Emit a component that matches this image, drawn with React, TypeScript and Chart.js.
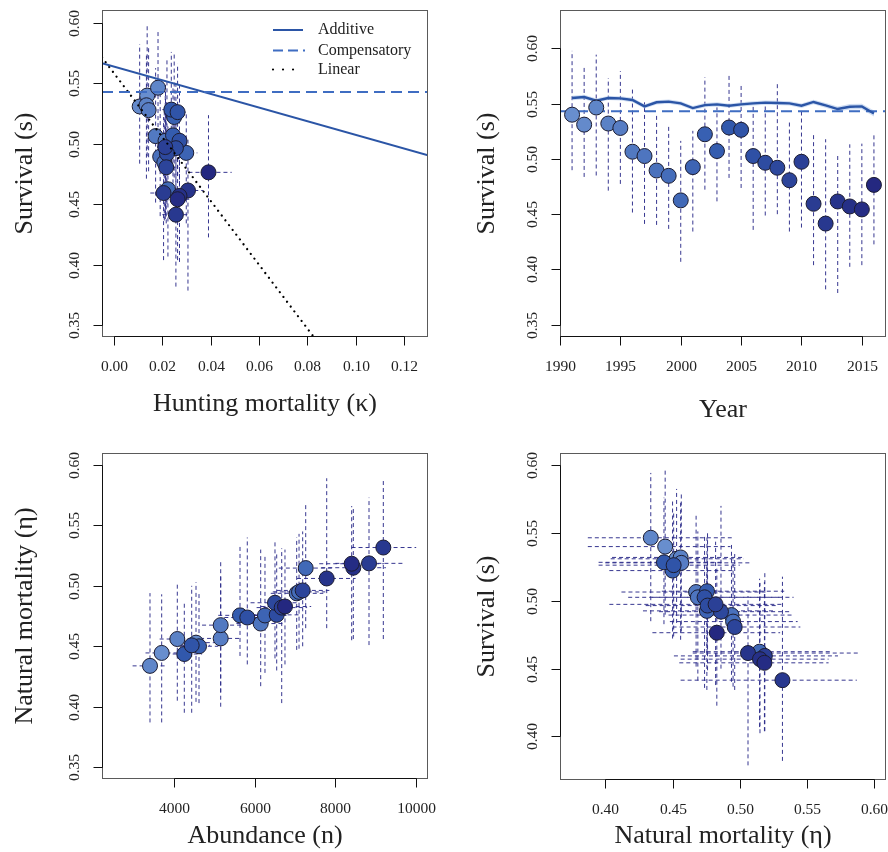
import React, { useEffect, useRef } from 'react';
import { Chart, registerables } from 'chart.js';

Chart.register(...registerables);

// ---------------- data ----------------
const years = [1991, 1992, 1993, 1994, 1995, 1996, 1997, 1998, 1999, 2000, 2001, 2002, 2003, 2004, 2005, 2006, 2007, 2008, 2009, 2010, 2011, 2012, 2013, 2014, 2015, 2016];

const survival = [0.540, 0.531, 0.5465, 0.532, 0.528, 0.5065, 0.5026, 0.4895, 0.4847, 0.4625, 0.4926, 0.5223, 0.5071, 0.5284, 0.5263, 0.5026, 0.4965, 0.4920, 0.4807, 0.4974, 0.4594, 0.4415, 0.4615, 0.4570, 0.4543, 0.4765];
const survivalLo = [0.4898, 0.4837, 0.4850, 0.4713, 0.4774, 0.4515, 0.4412, 0.4403, 0.4367, 0.4069, 0.4343, 0.4722, 0.4616, 0.4828, 0.4737, 0.4358, 0.4488, 0.4500, 0.4343, 0.4379, 0.4039, 0.3820, 0.3787, 0.4024, 0.4039, 0.4227];
const survivalHi = [0.5977, 0.5825, 0.5943, 0.5731, 0.5794, 0.5627, 0.5512, 0.5412, 0.5299, 0.5163, 0.5254, 0.5740, 0.5466, 0.5761, 0.5664, 0.5480, 0.5512, 0.5700, 0.5345, 0.5436, 0.5223, 0.5178, 0.5035, 0.5132, 0.5138, 0.5238];

const hunting = [0.0137, 0.0106, 0.0182, 0.0134, 0.0143, 0.0172, 0.0213, 0.0191, 0.0208, 0.0223, 0.0299, 0.0249, 0.0244, 0.0237, 0.0263, 0.0271, 0.0256, 0.0219, 0.0216, 0.0212, 0.0205, 0.0256, 0.0306, 0.0271, 0.0263, 0.0391];
const huntingLo = [0.0115, 0.0088, 0.0155, 0.0112, 0.0120, 0.0145, 0.0180, 0.0160, 0.0175, 0.0188, 0.0255, 0.0210, 0.0205, 0.0200, 0.0222, 0.0228, 0.0215, 0.0185, 0.0182, 0.0178, 0.0150, 0.0200, 0.0245, 0.0215, 0.0208, 0.0308];
const huntingHi = [0.0160, 0.0125, 0.0210, 0.0157, 0.0166, 0.0200, 0.0248, 0.0222, 0.0242, 0.0260, 0.0345, 0.0290, 0.0285, 0.0276, 0.0305, 0.0315, 0.0298, 0.0255, 0.0252, 0.0247, 0.0262, 0.0315, 0.0370, 0.0330, 0.0320, 0.0487];

const natural = [0.4445, 0.4530, 0.4338, 0.4560, 0.4565, 0.4675, 0.4688, 0.4938, 0.4950, 0.5147, 0.4755, 0.4500, 0.4756, 0.4436, 0.4508, 0.4738, 0.4760, 0.4860, 0.4962, 0.4820, 0.5186, 0.5317, 0.5061, 0.5150, 0.5183, 0.4829];
const naturalLo = [0.387, 0.404, 0.387, 0.405, 0.400, 0.412, 0.417, 0.447, 0.448, 0.465, 0.428, 0.403, 0.442, 0.395, 0.395, 0.435, 0.430, 0.440, 0.450, 0.403, 0.451, 0.456, 0.465, 0.456, 0.455, 0.435];
const naturalHi = [0.493, 0.503, 0.494, 0.502, 0.509, 0.520, 0.530, 0.540, 0.543, 0.567, 0.525, 0.495, 0.533, 0.487, 0.500, 0.540, 0.528, 0.537, 0.545, 0.531, 0.573, 0.587, 0.589, 0.566, 0.566, 0.530];

const abundance = [3700, 4550, 3411, 4087, 5161, 5161, 6151, 7042, 7100, 7265, 6257, 4624, 5639, 4260, 4443, 5819, 6547, 6505, 7190, 6671, 8832, 9186, 7785, 8443, 8403, 6752];
const abundanceLo = [3300, 4100, 2980, 3650, 4650, 4700, 5550, 6400, 6450, 6600, 5650, 4150, 5100, 3800, 4000, 5250, 5950, 5900, 6550, 6050, 8000, 8400, 7050, 7650, 7600, 6150];
const abundanceHi = [4150, 5000, 3800, 4550, 5650, 5700, 6750, 7700, 7750, 7950, 6850, 5100, 6200, 4700, 4900, 6400, 7150, 7100, 7850, 7300, 9700, 10000, 8500, 9250, 9200, 7400];

// additive model prediction of survival by year (panel 2)
const additiveByYear = [0.5551, 0.5560, 0.5527, 0.5551, 0.5548, 0.5533, 0.5475, 0.5512, 0.5518, 0.5502, 0.5460, 0.5487, 0.5493, 0.5481, 0.5493, 0.5502, 0.5509, 0.5506, 0.5502, 0.5481, 0.5515, 0.5484, 0.5451, 0.5472, 0.5475, 0.5411];
const additiveByYearLo = [0.5530, 0.5540, 0.5508, 0.5532, 0.5529, 0.5513, 0.5455, 0.5493, 0.5499, 0.5483, 0.5441, 0.5468, 0.5474, 0.5462, 0.5474, 0.5483, 0.5490, 0.5487, 0.5482, 0.5460, 0.5494, 0.5462, 0.5428, 0.5448, 0.5450, 0.5383];
const additiveByYearHi = [0.5572, 0.5580, 0.5546, 0.5570, 0.5567, 0.5553, 0.5495, 0.5531, 0.5537, 0.5521, 0.5479, 0.5506, 0.5512, 0.5500, 0.5512, 0.5521, 0.5528, 0.5525, 0.5522, 0.5502, 0.5536, 0.5506, 0.5474, 0.5496, 0.5500, 0.5439];

const compensatoryS = 0.543;
// model lines vs hunting mortality (panel 1)
const modelK = [-0.005, 0.13];
const additiveS = [0.5668, 0.4907];
const linearS = [0.5716, 0.2155];
const compYears = [1990, 2017];

// ticks
const kTicks = [0, 0.02, 0.04, 0.06, 0.08, 0.1, 0.12];
const yearTicks = [1990, 1995, 2000, 2005, 2010, 2015];
const nTicks = [4000, 6000, 8000, 10000];
const etaTicks = [0.4, 0.45, 0.5, 0.55, 0.6];
const sTicks = [0.35, 0.4, 0.45, 0.5, 0.55, 0.6];
const sTicks4 = [0.4, 0.45, 0.5, 0.55, 0.6];

const legendLabels = ['Additive', 'Compensatory', 'Linear'];

// ---------------- styles ----------------
const SERIF = '"Liberation Serif", "Times New Roman", serif';
const ERR_COLOR = 'rgba(38,38,135,0.92)';
const ADD_COLOR = '#2b55a6';
const COMP_COLOR = '#3f6dc2';
const stops = [
  [104, 142, 206],
  [50, 90, 174],
  [36, 40, 128],
];
function yearColor(i: number) {
  const t = i / (years.length - 1);
  const seg = t < 0.5 ? 0 : 1;
  const u = t < 0.5 ? t / 0.5 : (t - 0.5) / 0.5;
  const a = stops[seg], b = stops[seg + 1];
  const c = a.map((v, k) => Math.round(v + (b[k] - v) * u));
  return `rgb(${c[0]},${c[1]},${c[2]})`;
}
const pointColors = years.map((_, i) => yearColor(i));

function vBars(xs: number[], lo: number[], hi: number[]) {
  const out: any[] = [];
  xs.forEach((x, i) => {
    out.push({ x, y: lo[i] }, { x, y: hi[i] }, { x, y: null });
  });
  return out;
}
function hBars(ys: number[], lo: number[], hi: number[]) {
  const out: any[] = [];
  ys.forEach((y, i) => {
    out.push({ x: lo[i], y }, { x: hi[i], y }, { x: hi[i], y: null });
  });
  return out;
}
function pts(xs: number[], ys: number[]) {
  return xs.map((x, i) => ({ x, y: ys[i] }));
}

const errStyle = {
  borderColor: ERR_COLOR,
  borderWidth: 1,
  borderDash: [4, 3],
  pointRadius: 0,
  fill: false,
  spanGaps: false,
};
function pointSet(data: any[], order: number) {
  return {
    data,
    showLine: false,
    pointRadius: 7.5,
    pointBackgroundColor: pointColors,
    pointBorderColor: '#1c1c30',
    pointBorderWidth: 1,
    order,
  };
}

// ---------------- panels ----------------
type Spec = {
  left: number; top: number;
  padding: any;
  xMin: number; xMax: number; yMin: number; yMax: number;
  xTicks: number[]; yTicks: number[];
  xFmt: (v: number) => string; yFmt: (v: number) => string;
  xTitle: string; yTitle: string; xTitleBase: number; yTitleX: number;
  datasets: any[];
  legend?: boolean;
};

const f2 = (v: number) => v.toFixed(2);
const fi = (v: number) => String(v);

const specs: Spec[] = [
  {
    left: 0, top: 0,
    padding: { left: 102, top: 10, right: 16, bottom: 89 },
    xMin: -0.005, xMax: 0.13, yMin: 0.3403, yMax: 0.6108,
    xTicks: kTicks, yTicks: sTicks, xFmt: f2, yFmt: f2,
    xTitle: 'Hunting mortality (κ)', yTitle: 'Survival (s)', xTitleBase: 411, yTitleX: 25,
    legend: true,
    datasets: [
      { data: pts(modelK, [compensatoryS, compensatoryS]), borderColor: COMP_COLOR, borderWidth: 2, borderDash: [11, 6], pointRadius: 0, order: 0 },
      { data: pts(modelK, additiveS), borderColor: ADD_COLOR, borderWidth: 2, pointRadius: 0, order: 0 },
      { data: pts(modelK, linearS), borderColor: '#000', borderWidth: 2.2, borderDash: [0.01, 6], borderCapStyle: 'round', pointRadius: 0, order: 0 },
      pointSet(pts(hunting, survival), 1),
      { ...errStyle, data: vBars(hunting, survivalLo, survivalHi), order: 2 },
      { ...errStyle, data: hBars(survival, huntingLo, huntingHi), order: 2 },
    ],
  },
  {
    left: 444, top: 0,
    padding: { left: 116, top: 10, right: 2, bottom: 89 },
    xMin: 1990, xMax: 2017, yMin: 0.3389, yMax: 0.6347,
    xTicks: yearTicks, yTicks: sTicks, xFmt: fi, yFmt: f2,
    xTitle: 'Year', yTitle: 'Survival (s)', xTitleBase: 417, yTitleX: 43,
    datasets: [
      pointSet(pts(years, survival), 0),
      { data: pts(years, additiveByYear), borderColor: ADD_COLOR, borderWidth: 2.4, pointRadius: 0, order: 1 },
      { data: pts(compYears, [compensatoryS, compensatoryS]), borderColor: COMP_COLOR, borderWidth: 2, borderDash: [11, 6], pointRadius: 0, order: 1 },
      { data: pts(years, additiveByYearLo), borderWidth: 0, borderColor: 'rgba(0,0,0,0)', pointRadius: 0, fill: false, order: 1.5 },
      { data: pts(years, additiveByYearHi), borderWidth: 0, borderColor: 'rgba(0,0,0,0)', pointRadius: 0, fill: '-1', backgroundColor: 'rgba(165,192,232,0.55)', order: 1.5 },
      { ...errStyle, data: vBars(years, survivalLo, survivalHi), order: 2 },
    ],
  },
  {
    left: 0, top: 426,
    padding: { left: 102, top: 27, right: 16, bottom: 73 },
    xMin: 2223, xMax: 10292, yMin: 0.3402, yMax: 0.6099,
    xTicks: nTicks, yTicks: sTicks, xFmt: fi, yFmt: f2,
    xTitle: 'Abundance (n)', yTitle: 'Natural mortality (η)', xTitleBase: 417, yTitleX: 25,
    datasets: [
      pointSet(pts(abundance, natural), 0),
      { ...errStyle, data: vBars(abundance, naturalLo, naturalHi), order: 2 },
      { ...errStyle, data: hBars(natural, abundanceLo, abundanceHi), order: 2 },
    ],
  },
  {
    left: 444, top: 426,
    padding: { left: 116, top: 27, right: 2, bottom: 72 },
    xMin: 0.3663, xMax: 0.6087, yMin: 0.3679, yMax: 0.6090,
    xTicks: etaTicks, yTicks: sTicks4, xFmt: f2, yFmt: f2,
    xTitle: 'Natural mortality (η)', yTitle: 'Survival (s)', xTitleBase: 417, yTitleX: 43,
    datasets: [
      pointSet(pts(natural, survival), 0),
      { ...errStyle, data: vBars(natural, survivalLo, survivalHi), order: 2 },
      { ...errStyle, data: hBars(survival, naturalLo, naturalHi), order: 2 },
    ],
  },
];

function axesPlugin(spec: Spec) {
  return {
    id: 'rAxes',
    afterDraw(chart: any) {
      const ctx = chart.ctx as CanvasRenderingContext2D;
      const a = chart.chartArea;
      const xs = chart.scales.x, ys = chart.scales.y;
      const L = Math.round(a.left) + 0.5, R = Math.round(a.right) - 0.5;
      const T = Math.round(a.top) + 0.5, B = Math.round(a.bottom) - 0.5;
      ctx.save();
      ctx.lineWidth = 1;
      ctx.strokeStyle = '#5a5a5a';
      ctx.strokeRect(L, T, R - L, B - T);
      const xp = spec.xTicks.map((v) => Math.round(xs.getPixelForValue(v)) + 0.5);
      const yp = spec.yTicks.map((v) => Math.round(ys.getPixelForValue(v)) + 0.5);
      ctx.strokeStyle = '#111';
      ctx.beginPath();
      ctx.moveTo(xp[0], B); ctx.lineTo(xp[xp.length - 1], B);
      xp.forEach((p) => { ctx.moveTo(p, B); ctx.lineTo(p, B + 9); });
      ctx.moveTo(L, yp[0]); ctx.lineTo(L, yp[yp.length - 1]);
      yp.forEach((p) => { ctx.moveTo(L, p); ctx.lineTo(L - 9, p); });
      ctx.stroke();

      ctx.fillStyle = '#222';
      ctx.font = `15.5px ${SERIF}`;
      ctx.textAlign = 'center';
      ctx.textBaseline = 'middle';
      spec.xTicks.forEach((v, i) => ctx.fillText(spec.xFmt(v), xp[i], B + 30));
      spec.yTicks.forEach((v, i) => {
        ctx.save();
        ctx.translate(L - 28, yp[i]);
        ctx.rotate(-Math.PI / 2);
        ctx.fillText(spec.yFmt(v), 0, 0);
        ctx.restore();
      });

      ctx.font = `26px ${SERIF}`;
      ctx.textBaseline = 'alphabetic';
      ctx.fillText(spec.xTitle, (L + R) / 2, spec.xTitleBase);
      ctx.save();
      ctx.translate(spec.yTitleX, (T + B) / 2);
      ctx.rotate(-Math.PI / 2);
      ctx.textBaseline = 'middle';
      ctx.fillText(spec.yTitle, 0, 0);
      ctx.restore();

      if (spec.legend) {
        const rows = [30, 50.5, 69.5];
        const x0 = 273, x1 = 303;
        ctx.lineWidth = 2;
        ctx.strokeStyle = ADD_COLOR;
        ctx.setLineDash([]);
        ctx.beginPath(); ctx.moveTo(x0, rows[0]); ctx.lineTo(x1, rows[0]); ctx.stroke();
        ctx.strokeStyle = COMP_COLOR;
        ctx.setLineDash([10, 5]);
        ctx.beginPath(); ctx.moveTo(x0, rows[1]); ctx.lineTo(x1 + 2, rows[1]); ctx.stroke();
        ctx.strokeStyle = '#000';
        ctx.lineCap = 'round';
        ctx.lineWidth = 2.2;
        ctx.setLineDash([0.01, 10]);
        ctx.beginPath(); ctx.moveTo(x0, rows[2]); ctx.lineTo(x1, rows[2]); ctx.stroke();
        ctx.setLineDash([]);
        ctx.font = `16px ${SERIF}`;
        ctx.textAlign = 'left';
        ctx.textBaseline = 'middle';
        ctx.fillStyle = '#222';
        legendLabels.forEach((t, i) => ctx.fillText(t, 318, rows[i]));
      }
      ctx.restore();
    },
  };
}

function Panel({ spec }: { spec: Spec }) {
  const ref = useRef<HTMLCanvasElement | null>(null);
  useEffect(() => {
    if (!ref.current) return;
    const chart = new Chart(ref.current, {
      type: 'line',
      data: { datasets: spec.datasets },
      options: {
        responsive: false,
        animation: false,
        events: [],
        layout: { padding: spec.padding, autoPadding: false },
        plugins: {
          legend: { display: false },
          tooltip: { enabled: false },
          title: { display: false },
        },
        elements: { line: { tension: 0 } },
        scales: {
          x: { type: 'linear', display: false, min: spec.xMin, max: spec.xMax },
          y: { type: 'linear', display: false, min: spec.yMin, max: spec.yMax },
        },
      } as any,
      plugins: [axesPlugin(spec)],
    });
    return () => chart.destroy();
  }, [spec]);
  return (
    <canvas
      ref={ref}
      width={444}
      height={426}
      style={{ position: 'absolute', left: spec.left, top: spec.top, width: 444, height: 426 }}
    />
  );
}

export default function App() {
  return (
    <div style={{ position: 'absolute', left: 0, top: 0, width: 888, height: 852, background: '#fff' }}>
      {specs.map((s, i) => (
        <Panel key={i} spec={s} />
      ))}
    </div>
  );
}
